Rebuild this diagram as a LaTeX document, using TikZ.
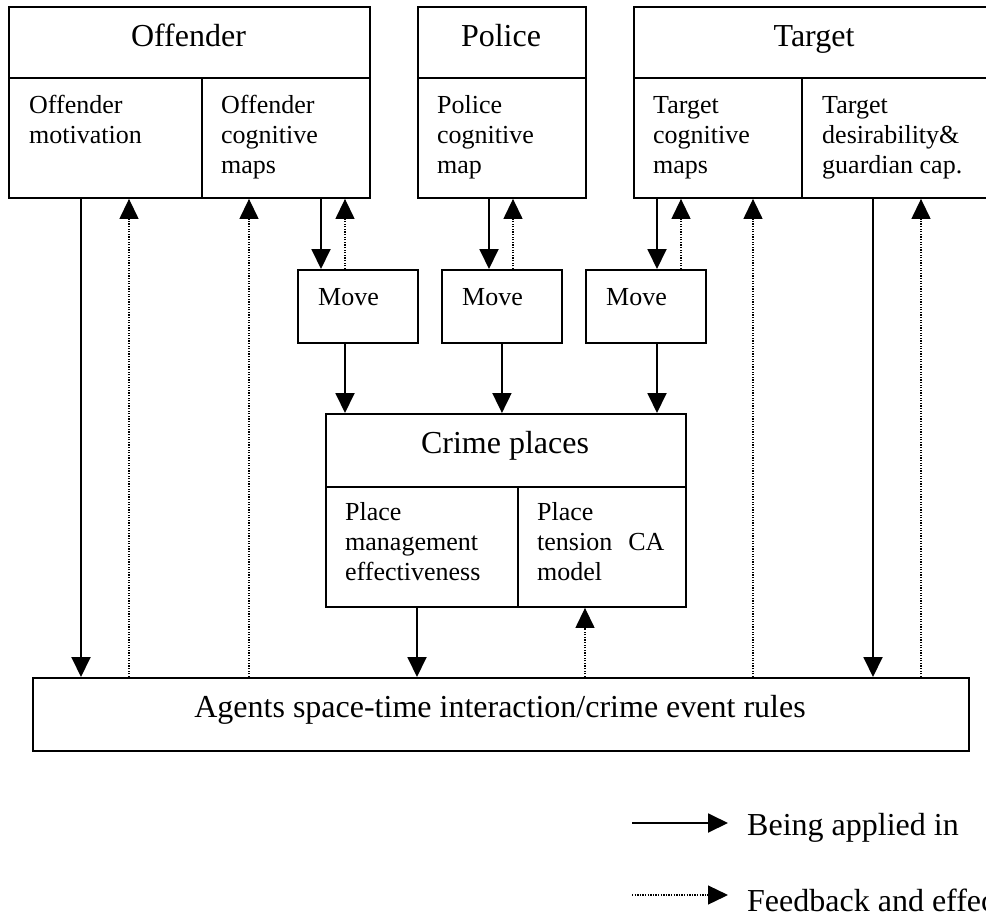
\documentclass[tikz,border=0pt]{standalone}
\usepackage{fontspec}
\setmainfont{Liberation Serif}
\usetikzlibrary{arrows.meta}

\tikzset{
  frame/.style={draw, line width=1.9pt, inner sep=0pt, anchor=north west},
  ttl/.style={anchor=base, inner sep=0pt, font=\fontsize{32}{36}\selectfont},
  sub/.style={anchor=base west, inner sep=0pt, font=\fontsize{26}{30}\selectfont},
  apply/.style={line width=1.9pt, -{Triangle[length=20pt,width=19pt]}},
  feedback/.style={line width=1.3pt, dash pattern=on 1.3pt off 1.3pt, -{Triangle[length=20pt,width=19pt]}},
}
\newcommand{\cellText}[1]{\parbox[t]{190pt}{#1}}

\begin{document}
\begin{tikzpicture}[x=1pt, y=-1pt]
  \useasboundingbox (0,0) rectangle (986,913);
  \fill[white] (0,0) rectangle (986,913);
  \clip (0,0) rectangle (986,913);

  % Offender block
  \node[frame, minimum width=361pt, minimum height=71pt] (off) at (8,6) {};
  \node[frame, minimum width=193pt, minimum height=120pt] (offmot) at (8,77) {};
  \node[frame, minimum width=168pt, minimum height=120pt] (offcog) at (201,77) {};
  \node[ttl] (offT) at (188.5,46) {Offender};
  \node[sub] (offmotT) at (29,113) {\cellText{Offender\\motivation}};
  \node[sub] (offcogT) at (221,113) {\cellText{Offender\\cognitive\\maps}};

  % Police block
  \node[frame, minimum width=168pt, minimum height=71pt] (pol) at (417,6) {};
  \node[frame, minimum width=168pt, minimum height=120pt] (polcog) at (417,77) {};
  \node[ttl] (polT) at (501,46) {Police};
  \node[sub] (polcogT) at (437,113) {\cellText{Police\\cognitive\\map}};

  % Target block
  \node[frame, minimum width=362pt, minimum height=71pt] (tgt) at (633,6) {};
  \node[frame, minimum width=168pt, minimum height=120pt] (tgtcog) at (633,77) {};
  \node[frame, minimum width=194pt, minimum height=120pt] (tgtdes) at (801,77) {};
  \node[ttl] (tgtT) at (814,46) {Target};
  \node[sub] (tgtcogT) at (653,113) {\cellText{Target\\cognitive\\maps}};
  \node[sub] (tgtdesT) at (822,113) {\cellText{Target\\desirability\&\\guardian cap.}};

  % Move boxes
  \node[frame, minimum width=120pt, minimum height=73pt] (mv1) at (297,269) {};
  \node[frame, minimum width=120pt, minimum height=73pt] (mv2) at (441,269) {};
  \node[frame, minimum width=120pt, minimum height=73pt] (mv3) at (585,269) {};
  \node[sub] (mv1T) at (318,305) {Move};
  \node[sub] (mv2T) at (462,305) {Move};
  \node[sub] (mv3T) at (606,305) {Move};

  % Crime places block
  \node[frame, minimum width=360pt, minimum height=73pt] (crime) at (325,413) {};
  \node[frame, minimum width=192pt, minimum height=120pt] (pm) at (325,486) {};
  \node[frame, minimum width=168pt, minimum height=120pt] (pt) at (517,486) {};
  \node[ttl] (crimeT) at (505,453) {Crime places};
  \node[sub] (pmT) at (345,520) {\cellText{Place\\management\\effectiveness}};
  \node[sub] (ptT) at (537,520) {\cellText{Place\\tension\hspace*{16pt}CA\\model}};

  % Interaction rules
  \node[frame, minimum width=936pt, minimum height=73pt] (agents) at (32,677) {};
  \node[ttl] (agentsT) at (500,717) {Agents space-time interaction/crime event rules};

  % Offender connectors
  \draw[apply] ([xshift=73pt]offmot.south west) -- ([xshift=73pt]offmot.south west |- agents.north);
  \draw[feedback] ([xshift=121pt]offmot.south west |- agents.north) -- ([xshift=121pt]offmot.south west);
  \draw[feedback] ([xshift=48pt]offcog.south west |- agents.north) -- ([xshift=48pt]offcog.south west);
  \draw[apply] ([xshift=120pt]offcog.south west) -- ([xshift=120pt]offcog.south west |- mv1.north);
  \draw[feedback] ([xshift=144pt]offcog.south west |- mv1.north) -- ([xshift=144pt]offcog.south west);

  % Police connectors
  \draw[apply] ([xshift=72pt]polcog.south west) -- ([xshift=72pt]polcog.south west |- mv2.north);
  \draw[feedback] ([xshift=96pt]polcog.south west |- mv2.north) -- ([xshift=96pt]polcog.south west);

  % Target connectors
  \draw[apply] ([xshift=24pt]tgtcog.south west) -- ([xshift=24pt]tgtcog.south west |- mv3.north);
  \draw[feedback] ([xshift=48pt]tgtcog.south west |- mv3.north) -- ([xshift=48pt]tgtcog.south west);
  \draw[feedback] ([xshift=120pt]tgtcog.south west |- agents.north) -- ([xshift=120pt]tgtcog.south west);
  \draw[apply] ([xshift=72pt]tgtdes.south west) -- ([xshift=72pt]tgtdes.south west |- agents.north);
  \draw[feedback] ([xshift=120pt]tgtdes.south west |- agents.north) -- ([xshift=120pt]tgtdes.south west);

  % Moves into crime places
  \draw[apply] ([xshift=48pt]mv1.south west) -- ([xshift=48pt]mv1.south west |- crime.north);
  \draw[apply] (mv2.south) -- (mv2.south |- crime.north);
  \draw[apply] ([xshift=72pt]mv3.south west) -- ([xshift=72pt]mv3.south west |- crime.north);

  % Crime places and rules
  \draw[apply] ([xshift=92pt]pm.south west) -- ([xshift=92pt]pm.south west |- agents.north);
  \draw[feedback] ([xshift=68pt]pt.south west |- agents.north) -- ([xshift=68pt]pt.south west);

  % Legend
  \coordinate (legA0) at (632,823);
  \coordinate (legA1) at (728,823);
  \coordinate (legB0) at (632,895);
  \coordinate (legB1) at (728,895);
  \draw[apply] (legA0) -- (legA1);
  \draw[feedback] (legB0) -- (legB1);
  \node[ttl, anchor=base west] (legAT) at (747,835) {Being applied in};
  \node[ttl, anchor=base west] (legBT) at (747,911) {Feedback and effects};
\end{tikzpicture}
\end{document}
